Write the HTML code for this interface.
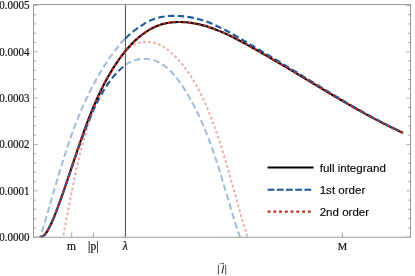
<!DOCTYPE html>
<html><head><meta charset="utf-8"><title>plot</title>
<style>
html,body{margin:0;padding:0;background:#fff;}
body{width:415px;height:276px;overflow:hidden;}
svg{display:block;}
.ser{font-family:"Liberation Serif",serif;font-size:11.5px;fill:#111;stroke:#111;stroke-width:0.2;}
.san{font-family:"Liberation Sans",sans-serif;font-size:11.55px;fill:#000;stroke:#000;stroke-width:0.12;}
.tkM{stroke:#a8a8a8;stroke-width:0.9;fill:none;}
.tkm{stroke:#8a8a8a;stroke-width:0.7;fill:none;}
.tkx{stroke:#8a8a8a;stroke-width:0.8;fill:none;}
.c{fill:none;stroke-width:2.1;stroke-linecap:butt;stroke-linejoin:round;}
.bk{stroke:#000;}
.bd{stroke:#1f5a9e;stroke-dasharray:6.5 3.3;}
.bl{stroke:#a5bedb;stroke-dasharray:6.5 3.3;}
.rd{stroke:#b9302a;stroke-dasharray:2.7 2.4;}
.rl{stroke:#ebb0ab;stroke-dasharray:2.7 2.4;}
</style></head>
<body>
<svg width="415" height="276" viewBox="0 0 415 276">
<rect x="0" y="0" width="415" height="276" fill="#fff"/>
<defs><clipPath id="cp"><rect x="33.5" y="4.6" width="377.0" height="232.6"/></clipPath></defs>
<g clip-path="url(#cp)">
<path class="c bl" d="M125.00 38.50 C124.69 38.85 123.76 39.91 123.16 40.62 C122.55 41.33 121.94 42.04 121.34 42.75 C120.75 43.47 120.15 44.18 119.56 44.90 C118.98 45.62 118.39 46.35 117.82 47.07 C117.24 47.80 116.67 48.53 116.10 49.26 C115.54 49.99 114.97 50.73 114.42 51.47 C113.86 52.20 113.31 52.94 112.76 53.69 C112.22 54.43 111.67 55.17 111.14 55.92 C110.60 56.67 110.07 57.42 109.54 58.17 C109.02 58.93 108.49 59.68 107.98 60.44 C107.46 61.20 106.95 61.96 106.44 62.73 C105.93 63.49 105.43 64.26 104.93 65.02 C104.43 65.79 103.94 66.56 103.45 67.34 C102.96 68.11 102.47 68.89 101.99 69.67 C101.51 70.44 101.03 71.22 100.56 72.01 C100.09 72.79 99.62 73.58 99.16 74.36 C98.69 75.15 98.23 75.94 97.78 76.73 C97.32 77.52 96.87 78.32 96.43 79.11 C95.98 79.91 95.54 80.71 95.10 81.51 C94.66 82.31 94.22 83.11 93.79 83.92 C93.36 84.72 92.93 85.53 92.51 86.34 C92.08 87.14 91.66 87.95 91.25 88.77 C90.83 89.58 90.42 90.39 90.01 91.21 C89.60 92.03 89.20 92.84 88.79 93.66 C88.39 94.48 87.99 95.31 87.60 96.13 C87.20 96.95 86.81 97.78 86.43 98.61 C86.04 99.43 85.65 100.26 85.27 101.09 C84.89 101.92 84.51 102.76 84.14 103.59 C83.76 104.42 83.39 105.26 83.02 106.10 C82.65 106.93 82.29 107.77 81.92 108.61 C81.56 109.45 81.20 110.30 80.85 111.14 C80.49 111.98 80.14 112.83 79.78 113.67 C79.43 114.52 79.09 115.37 78.74 116.22 C78.39 117.06 78.05 117.92 77.71 118.77 C77.37 119.62 77.04 120.47 76.70 121.33 C76.37 122.18 76.03 123.04 75.70 123.89 C75.37 124.75 75.05 125.61 74.72 126.47 C74.40 127.33 74.08 128.19 73.76 129.05 C73.44 129.91 73.12 130.77 72.80 131.64 C72.49 132.50 72.18 133.36 71.86 134.23 C71.55 135.10 71.24 135.96 70.94 136.83 C70.63 137.70 70.33 138.57 70.02 139.44 C69.72 140.31 69.42 141.18 69.12 142.05 C68.82 142.92 68.53 143.79 68.23 144.67 C67.94 145.54 67.64 146.41 67.35 147.29 C67.06 148.16 66.77 149.04 66.48 149.92 C66.19 150.79 65.91 151.67 65.62 152.55 C65.34 153.42 65.05 154.30 64.77 155.18 C64.49 156.06 64.21 156.94 63.93 157.82 C63.65 158.70 63.37 159.58 63.09 160.46 C62.82 161.34 62.54 162.23 62.27 163.11 C61.99 163.99 61.72 164.87 61.45 165.76 C61.18 166.64 60.91 167.52 60.64 168.41 C60.37 169.29 60.10 170.18 59.83 171.06 C59.56 171.94 59.30 172.83 59.03 173.71 C58.77 174.60 58.50 175.49 58.24 176.37 C57.97 177.26 57.71 178.14 57.45 179.03 C57.18 179.91 56.92 180.80 56.66 181.69 C56.40 182.57 56.14 183.46 55.88 184.35 C55.62 185.23 55.36 186.12 55.10 187.01 C54.84 187.89 54.58 188.78 54.32 189.67 C54.06 190.55 53.81 191.44 53.55 192.32 C53.29 193.21 53.03 194.10 52.78 194.98 C52.52 195.87 52.26 196.76 52.00 197.64 C51.75 198.53 51.49 199.41 51.23 200.30 C50.98 201.18 50.72 202.07 50.46 202.95 C50.20 203.84 49.95 204.72 49.69 205.61 C49.43 206.49 49.17 207.38 48.92 208.26 C48.66 209.14 48.40 210.02 48.14 210.91 C47.88 211.79 47.62 212.67 47.37 213.55 C47.11 214.44 46.85 215.32 46.59 216.20 C46.33 217.08 46.07 217.96 45.80 218.84 C45.54 219.72 45.28 220.60 45.02 221.47 C44.76 222.35 44.49 223.23 44.23 224.11 C43.96 224.98 43.70 225.86 43.43 226.73 C43.17 227.61 42.90 228.48 42.63 229.36 C42.37 230.23 42.10 231.11 41.83 231.98 C41.56 232.85 41.29 233.72 41.02 234.59 C40.75 235.46 40.34 236.77 40.20 237.20"/>
<path class="c bl" d="M125.40 65.00 C125.87 64.70 127.27 63.76 128.21 63.22 C129.15 62.68 130.10 62.19 131.05 61.75 C132.00 61.31 132.95 60.93 133.90 60.59 C134.85 60.25 135.81 59.96 136.76 59.72 C137.70 59.48 138.65 59.29 139.60 59.14 C140.54 58.99 141.48 58.88 142.41 58.82 C143.34 58.76 144.26 58.74 145.18 58.77 C146.09 58.79 147.00 58.85 147.89 58.95 C148.78 59.06 149.67 59.20 150.54 59.38 C151.41 59.56 152.26 59.78 153.11 60.03 C153.96 60.28 154.79 60.57 155.61 60.89 C156.44 61.21 157.25 61.56 158.05 61.95 C158.85 62.33 159.63 62.75 160.41 63.19 C161.19 63.64 161.95 64.12 162.71 64.62 C163.46 65.12 164.21 65.65 164.94 66.21 C165.68 66.76 166.40 67.34 167.11 67.95 C167.83 68.55 168.53 69.18 169.22 69.83 C169.92 70.48 170.60 71.15 171.27 71.84 C171.95 72.53 172.61 73.25 173.27 73.97 C173.92 74.70 174.57 75.45 175.20 76.21 C175.84 76.97 176.47 77.75 177.08 78.54 C177.70 79.33 178.31 80.14 178.91 80.95 C179.52 81.77 180.11 82.60 180.69 83.44 C181.28 84.28 181.85 85.13 182.42 85.98 C182.99 86.84 183.55 87.70 184.11 88.57 C184.66 89.44 185.20 90.32 185.74 91.20 C186.28 92.08 186.81 92.97 187.34 93.85 C187.86 94.74 188.38 95.63 188.89 96.51 C189.40 97.40 189.90 98.29 190.40 99.18 C190.90 100.07 191.39 100.96 191.87 101.85 C192.36 102.75 192.84 103.64 193.31 104.53 C193.78 105.42 194.24 106.32 194.70 107.21 C195.16 108.11 195.62 109.00 196.07 109.90 C196.51 110.79 196.96 111.69 197.39 112.58 C197.83 113.48 198.26 114.38 198.69 115.28 C199.11 116.17 199.53 117.07 199.95 117.97 C200.36 118.87 200.77 119.77 201.18 120.67 C201.58 121.57 201.98 122.47 202.38 123.38 C202.77 124.28 203.16 125.18 203.55 126.08 C203.93 126.99 204.32 127.89 204.69 128.80 C205.07 129.70 205.44 130.61 205.81 131.51 C206.18 132.42 206.54 133.32 206.90 134.23 C207.26 135.14 207.62 136.04 207.97 136.95 C208.32 137.86 208.67 138.77 209.01 139.68 C209.36 140.59 209.70 141.50 210.04 142.41 C210.37 143.32 210.71 144.23 211.04 145.14 C211.37 146.06 211.69 146.97 212.02 147.88 C212.34 148.79 212.66 149.71 212.98 150.62 C213.30 151.54 213.62 152.45 213.93 153.37 C214.24 154.28 214.55 155.20 214.86 156.11 C215.17 157.03 215.47 157.95 215.77 158.87 C216.08 159.78 216.38 160.70 216.68 161.62 C216.97 162.54 217.27 163.46 217.56 164.38 C217.86 165.30 218.15 166.22 218.44 167.14 C218.73 168.06 219.02 168.98 219.31 169.91 C219.60 170.83 219.88 171.75 220.17 172.67 C220.45 173.60 220.73 174.52 221.02 175.45 C221.30 176.37 221.58 177.29 221.86 178.22 C222.14 179.15 222.42 180.07 222.70 181.00 C222.97 181.92 223.25 182.85 223.53 183.78 C223.80 184.71 224.08 185.64 224.36 186.56 C224.63 187.49 224.91 188.42 225.18 189.35 C225.46 190.28 225.73 191.21 226.01 192.14 C226.28 193.07 226.56 194.01 226.83 194.94 C227.11 195.87 227.38 196.80 227.66 197.73 C227.94 198.67 228.21 199.60 228.49 200.53 C228.77 201.47 229.04 202.40 229.32 203.34 C229.60 204.27 229.88 205.21 230.16 206.14 C230.44 207.08 230.72 208.02 231.00 208.95 C231.28 209.89 231.57 210.83 231.85 211.76 C232.14 212.70 232.42 213.64 232.71 214.58 C233.00 215.52 233.28 216.46 233.58 217.40 C233.87 218.34 234.16 219.28 234.45 220.22 C234.75 221.16 235.04 222.10 235.34 223.04 C235.64 223.98 235.94 224.93 236.24 225.87 C236.55 226.81 236.85 227.75 237.16 228.70 C237.47 229.64 237.78 230.58 238.09 231.53 C238.40 232.47 238.72 233.42 239.04 234.36 C239.35 235.31 239.84 236.73 240.00 237.20"/>
<path class="c rl" d="M125.00 50.80 C125.41 50.43 126.61 49.26 127.48 48.57 C128.35 47.88 129.28 47.24 130.23 46.65 C131.18 46.07 132.17 45.53 133.18 45.05 C134.20 44.57 135.24 44.14 136.30 43.77 C137.35 43.40 138.43 43.08 139.51 42.81 C140.59 42.55 141.69 42.34 142.78 42.19 C143.86 42.03 144.96 41.94 146.03 41.90 C147.11 41.85 148.18 41.87 149.22 41.94 C150.27 42.01 151.30 42.14 152.30 42.33 C153.31 42.51 154.29 42.75 155.26 43.03 C156.22 43.32 157.16 43.65 158.09 44.03 C159.02 44.41 159.93 44.83 160.82 45.29 C161.71 45.74 162.58 46.24 163.44 46.77 C164.30 47.30 165.15 47.86 165.98 48.45 C166.81 49.04 167.62 49.66 168.42 50.30 C169.23 50.94 170.02 51.61 170.79 52.29 C171.57 52.97 172.34 53.67 173.09 54.38 C173.85 55.09 174.60 55.82 175.33 56.56 C176.07 57.30 176.79 58.05 177.51 58.82 C178.22 59.58 178.92 60.36 179.62 61.16 C180.31 61.95 181.00 62.75 181.67 63.57 C182.35 64.38 183.01 65.21 183.67 66.05 C184.32 66.89 184.97 67.74 185.61 68.60 C186.24 69.46 186.87 70.33 187.49 71.21 C188.11 72.09 188.72 72.98 189.32 73.88 C189.92 74.78 190.51 75.68 191.10 76.60 C191.68 77.51 192.26 78.44 192.82 79.37 C193.39 80.30 193.95 81.24 194.50 82.19 C195.05 83.14 195.59 84.09 196.13 85.05 C196.66 86.01 197.19 86.98 197.71 87.95 C198.23 88.92 198.74 89.90 199.25 90.88 C199.75 91.86 200.25 92.85 200.74 93.84 C201.23 94.83 201.72 95.83 202.19 96.83 C202.67 97.83 203.14 98.83 203.60 99.84 C204.07 100.85 204.52 101.85 204.97 102.87 C205.42 103.88 205.87 104.89 206.30 105.91 C206.74 106.92 207.17 107.94 207.60 108.96 C208.03 109.98 208.44 111.00 208.86 112.02 C209.27 113.04 209.68 114.06 210.09 115.08 C210.49 116.10 210.89 117.12 211.28 118.14 C211.67 119.15 212.06 120.17 212.44 121.19 C212.82 122.20 213.20 123.22 213.58 124.23 C213.95 125.25 214.32 126.26 214.68 127.27 C215.04 128.28 215.40 129.29 215.76 130.30 C216.11 131.30 216.47 132.31 216.81 133.32 C217.16 134.32 217.50 135.33 217.84 136.33 C218.18 137.34 218.52 138.34 218.85 139.34 C219.18 140.35 219.51 141.35 219.83 142.35 C220.16 143.35 220.48 144.35 220.80 145.35 C221.12 146.35 221.44 147.35 221.75 148.35 C222.06 149.35 222.37 150.35 222.68 151.35 C222.99 152.35 223.29 153.35 223.60 154.35 C223.90 155.34 224.20 156.34 224.50 157.34 C224.80 158.34 225.10 159.34 225.39 160.34 C225.69 161.33 225.98 162.33 226.27 163.33 C226.56 164.33 226.85 165.33 227.14 166.33 C227.43 167.33 227.72 168.33 228.00 169.33 C228.29 170.32 228.57 171.33 228.86 172.33 C229.14 173.33 229.42 174.33 229.71 175.33 C229.99 176.33 230.27 177.33 230.55 178.34 C230.83 179.34 231.11 180.35 231.40 181.35 C231.68 182.36 231.96 183.36 232.24 184.37 C232.52 185.38 232.80 186.38 233.08 187.39 C233.36 188.40 233.64 189.41 233.93 190.43 C234.21 191.44 234.49 192.45 234.77 193.46 C235.06 194.48 235.34 195.49 235.63 196.51 C235.91 197.53 236.20 198.55 236.49 199.57 C236.77 200.59 237.06 201.61 237.35 202.63 C237.64 203.66 237.94 204.68 238.23 205.71 C238.52 206.74 238.82 207.77 239.12 208.80 C239.41 209.83 239.71 210.86 240.01 211.90 C240.32 212.93 240.62 213.97 240.93 215.01 C241.23 216.05 241.54 217.09 241.85 218.13 C242.16 219.18 242.48 220.22 242.79 221.27 C243.11 222.32 243.43 223.37 243.75 224.43 C244.08 225.48 244.40 226.54 244.73 227.59 C245.06 228.65 245.40 229.71 245.73 230.78 C246.07 231.84 246.41 232.91 246.76 233.98 C247.10 235.05 247.63 236.66 247.80 237.20"/>
<path class="c rl" d="M125.00 50.60 C124.75 50.94 123.98 51.96 123.48 52.65 C122.98 53.33 122.49 54.02 122.00 54.71 C121.51 55.40 121.02 56.09 120.54 56.79 C120.06 57.48 119.59 58.18 119.11 58.88 C118.64 59.58 118.18 60.28 117.72 60.98 C117.25 61.69 116.80 62.39 116.34 63.10 C115.89 63.81 115.44 64.52 115.00 65.23 C114.56 65.94 114.12 66.66 113.68 67.37 C113.25 68.09 112.82 68.81 112.39 69.53 C111.97 70.25 111.55 70.97 111.13 71.70 C110.71 72.42 110.30 73.15 109.89 73.88 C109.48 74.60 109.08 75.33 108.68 76.07 C108.28 76.80 107.88 77.53 107.49 78.27 C107.10 79.00 106.71 79.74 106.33 80.48 C105.94 81.22 105.56 81.96 105.19 82.71 C104.81 83.45 104.44 84.20 104.07 84.94 C103.70 85.69 103.34 86.44 102.98 87.19 C102.62 87.94 102.26 88.69 101.91 89.45 C101.56 90.20 101.21 90.95 100.86 91.71 C100.52 92.47 100.17 93.23 99.84 93.99 C99.50 94.75 99.16 95.51 98.83 96.27 C98.50 97.04 98.17 97.80 97.85 98.57 C97.53 99.34 97.20 100.10 96.89 100.87 C96.57 101.64 96.26 102.41 95.95 103.19 C95.64 103.96 95.33 104.73 95.02 105.51 C94.72 106.28 94.42 107.06 94.12 107.84 C93.82 108.62 93.53 109.40 93.24 110.18 C92.95 110.96 92.66 111.74 92.37 112.52 C92.09 113.31 91.81 114.09 91.53 114.88 C91.25 115.66 90.97 116.45 90.70 117.24 C90.43 118.03 90.15 118.82 89.89 119.61 C89.62 120.40 89.35 121.19 89.09 121.99 C88.83 122.78 88.57 123.57 88.31 124.37 C88.06 125.16 87.80 125.96 87.55 126.76 C87.30 127.55 87.05 128.35 86.81 129.15 C86.56 129.95 86.32 130.75 86.07 131.55 C85.83 132.36 85.59 133.16 85.36 133.96 C85.12 134.77 84.89 135.57 84.66 136.37 C84.42 137.18 84.20 137.99 83.97 138.79 C83.74 139.60 83.52 140.41 83.29 141.22 C83.07 142.03 82.85 142.83 82.63 143.64 C82.41 144.45 82.20 145.27 81.98 146.08 C81.77 146.89 81.56 147.70 81.35 148.52 C81.14 149.33 80.93 150.14 80.72 150.96 C80.51 151.77 80.31 152.59 80.11 153.40 C79.91 154.22 79.70 155.03 79.51 155.85 C79.31 156.67 79.11 157.49 78.91 158.30 C78.72 159.12 78.52 159.94 78.33 160.76 C78.14 161.58 77.95 162.40 77.76 163.22 C77.57 164.04 77.38 164.86 77.20 165.68 C77.01 166.50 76.83 167.32 76.64 168.14 C76.46 168.97 76.28 169.79 76.10 170.61 C75.92 171.43 75.74 172.26 75.56 173.08 C75.38 173.90 75.20 174.73 75.03 175.55 C74.85 176.37 74.68 177.20 74.51 178.02 C74.33 178.85 74.16 179.67 73.99 180.49 C73.82 181.32 73.65 182.14 73.48 182.97 C73.31 183.79 73.14 184.62 72.98 185.44 C72.81 186.27 72.64 187.09 72.48 187.92 C72.31 188.74 72.15 189.57 71.98 190.40 C71.82 191.22 71.66 192.05 71.50 192.87 C71.33 193.70 71.17 194.52 71.01 195.35 C70.85 196.17 70.69 197.00 70.53 197.82 C70.37 198.65 70.21 199.47 70.05 200.30 C69.89 201.12 69.73 201.95 69.58 202.77 C69.42 203.60 69.26 204.42 69.10 205.25 C68.95 206.07 68.79 206.89 68.63 207.72 C68.48 208.54 68.32 209.37 68.17 210.19 C68.01 211.01 67.85 211.84 67.70 212.66 C67.54 213.48 67.39 214.30 67.23 215.13 C67.08 215.95 66.92 216.77 66.77 217.59 C66.61 218.41 66.46 219.23 66.30 220.05 C66.14 220.87 65.99 221.69 65.83 222.51 C65.68 223.33 65.52 224.15 65.37 224.97 C65.21 225.79 65.05 226.60 64.90 227.42 C64.74 228.24 64.58 229.06 64.43 229.87 C64.27 230.69 64.11 231.50 63.95 232.32 C63.80 233.13 63.64 233.95 63.48 234.76 C63.32 235.57 63.08 236.79 63.00 237.20"/>
<path class="c bk" d="M39.98 237.60 C40.43 237.39 41.86 236.83 42.64 236.35 C43.42 235.87 44.05 235.30 44.65 234.71 C45.24 234.11 45.73 233.45 46.21 232.77 C46.69 232.10 47.10 231.38 47.52 230.66 C47.95 229.94 48.36 229.20 48.76 228.45 C49.16 227.71 49.56 226.95 49.94 226.18 C50.33 225.41 50.71 224.63 51.08 223.84 C51.46 223.05 51.82 222.26 52.18 221.45 C52.54 220.65 52.89 219.84 53.24 219.02 C53.59 218.20 53.93 217.38 54.27 216.55 C54.61 215.73 54.94 214.89 55.27 214.06 C55.59 213.22 55.92 212.38 56.24 211.54 C56.56 210.70 56.87 209.86 57.19 209.02 C57.50 208.18 57.81 207.33 58.12 206.49 C58.43 205.65 58.73 204.81 59.03 203.97 C59.34 203.14 59.64 202.30 59.94 201.46 C60.24 200.63 60.54 199.79 60.83 198.96 C61.13 198.13 61.42 197.30 61.71 196.47 C62.01 195.64 62.30 194.81 62.59 193.99 C62.88 193.16 63.16 192.34 63.45 191.51 C63.74 190.69 64.02 189.87 64.31 189.04 C64.59 188.22 64.87 187.40 65.15 186.58 C65.43 185.76 65.71 184.94 65.99 184.13 C66.27 183.31 66.55 182.49 66.83 181.68 C67.11 180.86 67.38 180.05 67.66 179.23 C67.94 178.42 68.21 177.60 68.48 176.79 C68.76 175.98 69.03 175.16 69.31 174.35 C69.58 173.54 69.85 172.73 70.13 171.91 C70.40 171.10 70.67 170.29 70.94 169.48 C71.21 168.67 71.49 167.86 71.76 167.05 C72.03 166.24 72.30 165.43 72.57 164.62 C72.84 163.81 73.12 163.00 73.39 162.19 C73.66 161.38 73.93 160.57 74.20 159.76 C74.48 158.95 74.75 158.14 75.02 157.33 C75.30 156.52 75.57 155.71 75.84 154.90 C76.12 154.08 76.39 153.27 76.67 152.46 C76.94 151.65 77.22 150.84 77.49 150.02 C77.77 149.21 78.05 148.40 78.33 147.58 C78.61 146.77 78.89 145.96 79.17 145.14 C79.45 144.32 79.73 143.51 80.01 142.69 C80.29 141.87 80.58 141.06 80.86 140.24 C81.15 139.42 81.43 138.60 81.72 137.78 C82.01 136.96 82.30 136.14 82.59 135.31 C82.88 134.49 83.17 133.67 83.47 132.85 C83.76 132.02 84.06 131.20 84.36 130.38 C84.65 129.55 84.95 128.73 85.25 127.90 C85.56 127.08 85.86 126.25 86.16 125.43 C86.47 124.60 86.78 123.78 87.09 122.95 C87.40 122.13 87.71 121.30 88.02 120.48 C88.34 119.65 88.66 118.83 88.98 118.00 C89.29 117.18 89.62 116.35 89.94 115.53 C90.26 114.70 90.59 113.88 90.92 113.06 C91.25 112.23 91.58 111.41 91.92 110.59 C92.25 109.77 92.59 108.94 92.93 108.12 C93.27 107.30 93.62 106.48 93.97 105.66 C94.31 104.85 94.66 104.03 95.02 103.21 C95.37 102.39 95.73 101.58 96.09 100.76 C96.45 99.95 96.81 99.14 97.18 98.32 C97.55 97.51 97.92 96.70 98.29 95.89 C98.66 95.08 99.04 94.27 99.42 93.47 C99.81 92.66 100.19 91.86 100.58 91.05 C100.97 90.25 101.36 89.45 101.76 88.65 C102.16 87.85 102.56 87.05 102.96 86.26 C103.37 85.46 103.78 84.67 104.19 83.88 C104.60 83.09 105.02 82.30 105.44 81.51 C105.87 80.72 106.29 79.94 106.72 79.16 C107.16 78.37 107.59 77.59 108.03 76.82 C108.47 76.04 108.92 75.26 109.37 74.49 C109.82 73.72 110.27 72.95 110.73 72.18 C111.19 71.41 111.66 70.65 112.12 69.89 C112.59 69.13 113.07 68.37 113.55 67.61 C114.03 66.86 114.51 66.11 115.00 65.36 C115.49 64.61 115.99 63.86 116.49 63.12 C116.99 62.38 117.50 61.64 118.01 60.90 C118.52 60.17 119.04 59.44 119.56 58.71 C120.08 57.98 120.61 57.26 121.15 56.54 C121.68 55.82 122.22 55.11 122.77 54.40 C123.31 53.70 123.86 53.00 124.42 52.30 C124.98 51.61 125.54 50.92 126.11 50.24 C126.68 49.56 127.25 48.88 127.83 48.22 C128.41 47.55 129.00 46.89 129.59 46.24 C130.18 45.59 130.78 44.95 131.38 44.31 C131.99 43.68 132.60 43.05 133.22 42.44 C133.83 41.83 134.45 41.22 135.08 40.63 C135.71 40.03 136.35 39.45 136.99 38.87 C137.63 38.30 138.28 37.74 138.93 37.19 C139.58 36.63 140.24 36.09 140.91 35.57 C141.58 35.04 142.25 34.52 142.93 34.02 C143.61 33.52 144.29 33.03 144.98 32.56 C145.68 32.08 146.38 31.62 147.08 31.17 C147.79 30.72 148.50 30.29 149.22 29.87 C149.93 29.45 150.66 29.04 151.39 28.66 C152.12 28.27 152.86 27.89 153.61 27.54 C154.35 27.18 155.10 26.84 155.86 26.51 C156.62 26.19 157.39 25.88 158.16 25.59 C158.93 25.30 159.71 25.03 160.50 24.77 C161.28 24.52 162.08 24.28 162.88 24.06 C163.68 23.84 164.49 23.64 165.30 23.46 C166.11 23.28 166.93 23.12 167.76 22.97 C168.58 22.82 169.41 22.69 170.25 22.58 C171.09 22.47 171.93 22.37 172.77 22.29 C173.62 22.21 174.47 22.15 175.32 22.11 C176.17 22.06 177.03 22.03 177.89 22.01 C178.75 21.99 179.62 21.99 180.48 22.01 C181.35 22.02 182.22 22.05 183.09 22.09 C183.96 22.14 184.83 22.20 185.70 22.27 C186.58 22.34 187.45 22.42 188.33 22.52 C189.21 22.62 190.08 22.73 190.96 22.86 C191.83 22.98 192.71 23.12 193.59 23.27 C194.46 23.42 195.34 23.58 196.21 23.75 C197.09 23.92 197.96 24.11 198.83 24.31 C199.70 24.50 200.57 24.71 201.44 24.93 C202.31 25.15 203.17 25.38 204.03 25.61 C204.90 25.85 205.75 26.10 206.61 26.36 C207.47 26.62 208.32 26.89 209.17 27.17 C210.02 27.44 210.87 27.73 211.72 28.03 C212.56 28.32 213.41 28.63 214.25 28.94 C215.09 29.25 215.93 29.57 216.76 29.90 C217.60 30.22 218.43 30.56 219.26 30.90 C220.09 31.24 220.92 31.59 221.75 31.95 C222.58 32.31 223.40 32.67 224.22 33.04 C225.04 33.40 225.86 33.78 226.68 34.16 C227.50 34.54 228.31 34.92 229.12 35.31 C229.94 35.70 230.75 36.10 231.56 36.50 C232.36 36.90 233.17 37.30 233.97 37.71 C234.78 38.12 235.58 38.53 236.38 38.94 C237.18 39.36 237.98 39.78 238.78 40.20 C239.57 40.62 240.37 41.04 241.16 41.47 C241.95 41.89 242.74 42.32 243.53 42.75 C244.32 43.18 245.11 43.62 245.89 44.05 C246.68 44.48 247.46 44.92 248.25 45.35 C249.03 45.79 249.81 46.23 250.59 46.66 C251.37 47.10 252.14 47.53 252.92 47.97 C253.69 48.41 254.47 48.84 255.24 49.28 C256.01 49.72 256.78 50.16 257.55 50.59 C258.32 51.03 259.09 51.47 259.86 51.91 C260.62 52.34 261.39 52.78 262.15 53.22 C262.92 53.66 263.68 54.10 264.44 54.53 C265.20 54.97 265.96 55.41 266.72 55.85 C267.48 56.29 268.24 56.73 268.99 57.16 C269.75 57.60 270.50 58.04 271.26 58.48 C272.01 58.92 272.77 59.36 273.52 59.80 C274.27 60.24 275.02 60.68 275.77 61.12 C276.52 61.56 277.27 62.00 278.02 62.44 C278.77 62.88 279.51 63.32 280.26 63.76 C281.01 64.20 281.75 64.64 282.50 65.08 C283.24 65.52 283.99 65.96 284.73 66.40 C285.47 66.84 286.21 67.28 286.96 67.72 C287.70 68.16 288.44 68.60 289.18 69.04 C289.92 69.48 290.66 69.92 291.40 70.37 C292.14 70.81 292.88 71.25 293.62 71.69 C294.35 72.13 295.09 72.57 295.83 73.01 C296.57 73.45 297.30 73.90 298.04 74.34 C298.78 74.78 299.51 75.22 300.25 75.66 C300.98 76.10 301.72 76.55 302.45 76.99 C303.19 77.43 303.92 77.87 304.66 78.31 C305.39 78.76 306.13 79.20 306.86 79.64 C307.60 80.08 308.33 80.53 309.07 80.97 C309.80 81.41 310.53 81.85 311.27 82.29 C312.00 82.74 312.74 83.18 313.47 83.62 C314.20 84.06 314.94 84.51 315.67 84.95 C316.41 85.39 317.14 85.83 317.87 86.27 C318.61 86.72 319.34 87.16 320.08 87.60 C320.81 88.04 321.55 88.48 322.28 88.92 C323.02 89.36 323.75 89.81 324.49 90.25 C325.23 90.69 325.96 91.13 326.70 91.57 C327.43 92.01 328.17 92.45 328.91 92.89 C329.65 93.33 330.38 93.77 331.12 94.20 C331.86 94.64 332.60 95.08 333.34 95.52 C334.08 95.96 334.82 96.40 335.56 96.83 C336.30 97.27 337.04 97.71 337.78 98.14 C338.52 98.58 339.27 99.02 340.01 99.45 C340.75 99.89 341.50 100.32 342.24 100.76 C342.99 101.19 343.73 101.63 344.48 102.06 C345.23 102.49 345.97 102.93 346.72 103.36 C347.47 103.79 348.22 104.22 348.97 104.65 C349.72 105.08 350.47 105.51 351.22 105.94 C351.97 106.37 352.73 106.80 353.48 107.23 C354.24 107.66 354.99 108.08 355.75 108.51 C356.50 108.94 357.26 109.36 358.02 109.79 C358.78 110.21 359.54 110.64 360.30 111.06 C361.06 111.48 361.83 111.91 362.59 112.33 C363.35 112.75 364.12 113.17 364.89 113.59 C365.65 114.01 366.42 114.43 367.19 114.85 C367.96 115.27 368.73 115.68 369.50 116.10 C370.28 116.52 371.05 116.93 371.83 117.35 C372.60 117.76 373.38 118.17 374.16 118.59 C374.94 119.00 375.72 119.41 376.50 119.82 C377.28 120.23 378.06 120.64 378.85 121.04 C379.64 121.45 380.42 121.86 381.21 122.26 C382.00 122.67 382.79 123.07 383.58 123.48 C384.38 123.88 385.17 124.28 385.97 124.68 C386.77 125.08 387.56 125.48 388.36 125.88 C389.16 126.28 389.97 126.68 390.77 127.07 C391.58 127.47 392.38 127.86 393.19 128.25 C394.00 128.65 394.81 129.04 395.62 129.43 C396.44 129.82 397.25 130.21 398.07 130.59 C398.89 130.98 399.71 131.37 400.53 131.75 C401.35 132.14 402.59 132.71 403.00 132.90"/>
<path class="c bd" d="M39.98 237.60 C40.23 237.51 40.95 237.26 41.43 237.03 C41.92 236.79 42.40 236.53 42.88 236.20 C43.36 235.86 43.85 235.49 44.33 235.02 C44.81 234.55 45.29 234.01 45.78 233.37 C46.26 232.73 46.74 231.97 47.22 231.17 C47.71 230.38 48.19 229.51 48.67 228.62 C49.15 227.73 49.64 226.81 50.12 225.84 C50.60 224.88 51.08 223.87 51.57 222.83 C52.05 221.78 52.53 220.70 53.01 219.58 C53.50 218.47 53.98 217.31 54.46 216.12 C54.94 214.94 55.43 213.71 55.91 212.46 C56.39 211.22 56.87 209.94 57.36 208.64 C57.84 207.35 58.32 206.04 58.81 204.72 C59.29 203.40 59.77 202.06 60.25 200.73 C60.74 199.39 61.22 198.04 61.70 196.69 C62.18 195.33 62.67 193.97 63.15 192.60 C63.63 191.23 64.11 189.85 64.60 188.47 C65.08 187.08 65.56 185.69 66.04 184.30 C66.53 182.91 67.01 181.51 67.49 180.10 C67.97 178.70 68.46 177.29 68.94 175.89 C69.42 174.48 69.90 173.07 70.39 171.66 C70.87 170.25 71.35 168.84 71.83 167.43 C72.32 166.02 72.80 164.61 73.28 163.20 C73.76 161.80 74.25 160.39 74.73 158.99 C75.21 157.60 75.70 156.20 76.18 154.81 C76.66 153.43 77.14 152.04 77.63 150.67 C78.11 149.30 78.59 147.93 79.07 146.57 C79.56 145.21 80.04 143.86 80.52 142.52 C81.00 141.19 81.49 139.85 81.97 138.54 C82.45 137.22 82.93 135.91 83.42 134.62 C83.90 133.33 84.38 132.05 84.86 130.78 C85.35 129.52 85.83 128.27 86.31 127.03 C86.79 125.80 87.28 124.58 87.76 123.38 C88.24 122.18 88.72 121.00 89.21 119.84 C89.69 118.67 90.17 117.52 90.65 116.39 C91.14 115.26 91.62 114.15 92.10 113.06 C92.59 111.97 93.07 110.89 93.55 109.84 C94.03 108.78 94.52 107.75 95.00 106.73 C95.48 105.71 95.96 104.71 96.45 103.73 C96.93 102.75 97.41 101.79 97.89 100.85 C98.38 99.90 98.86 98.98 99.34 98.07 C99.82 97.17 100.31 96.28 100.79 95.41 C101.27 94.54 101.75 93.69 102.24 92.85 C102.72 92.02 103.20 91.20 103.68 90.40 C104.17 89.61 104.65 88.82 105.13 88.06 C105.61 87.30 106.10 86.55 106.58 85.82 C107.06 85.09 107.54 84.38 108.03 83.68 C108.51 82.99 108.99 82.31 109.48 81.64 C109.96 80.98 110.44 80.33 110.92 79.70 C111.41 79.07 111.89 78.45 112.37 77.85 C112.85 77.25 113.34 76.67 113.82 76.10 C114.30 75.53 114.78 74.98 115.27 74.44 C115.75 73.90 116.23 73.37 116.71 72.86 C117.20 72.36 117.68 71.86 118.16 71.38 C118.64 70.90 119.13 70.44 119.61 69.98 C120.09 69.53 120.57 69.10 121.06 68.68 C121.54 68.26 122.02 67.85 122.50 67.46 C122.99 67.07 123.47 66.69 123.95 66.33 C124.43 65.97 125.16 65.47 125.40 65.29"/>
<path class="c bd" d="M125.40 38.39 C125.92 37.91 127.48 36.42 128.52 35.49 C129.56 34.55 130.60 33.66 131.64 32.79 C132.68 31.93 133.72 31.09 134.76 30.28 C135.80 29.48 136.84 28.70 137.88 27.94 C138.92 27.19 139.96 26.46 141.00 25.77 C142.04 25.07 143.07 24.41 144.11 23.79 C145.15 23.16 146.19 22.57 147.23 22.02 C148.27 21.48 149.31 20.97 150.35 20.51 C151.39 20.05 152.43 19.63 153.47 19.24 C154.51 18.85 155.55 18.51 156.59 18.19 C157.63 17.88 158.67 17.60 159.71 17.35 C160.75 17.10 161.79 16.89 162.83 16.71 C163.87 16.53 164.91 16.38 165.95 16.26 C166.99 16.14 168.03 16.06 169.07 15.99 C170.11 15.93 171.15 15.89 172.19 15.87 C173.23 15.85 174.27 15.85 175.31 15.86 C176.35 15.87 177.39 15.91 178.42 15.96 C179.46 16.00 180.50 16.06 181.54 16.14 C182.58 16.22 183.62 16.33 184.66 16.45 C185.70 16.57 186.74 16.71 187.78 16.87 C188.82 17.02 189.86 17.20 190.90 17.39 C191.94 17.58 192.98 17.78 194.02 18.00 C195.06 18.22 196.10 18.46 197.14 18.72 C198.18 18.97 199.22 19.25 200.26 19.55 C201.30 19.85 202.34 20.17 203.38 20.51 C204.42 20.85 205.46 21.22 206.50 21.60 C207.54 21.98 208.58 22.38 209.62 22.79 C210.66 23.21 211.70 23.64 212.73 24.08 C213.77 24.53 214.81 24.99 215.85 25.47 C216.89 25.94 217.93 26.43 218.97 26.93 C220.01 27.43 221.05 27.94 222.09 28.46 C223.13 28.98 224.17 29.51 225.21 30.05 C226.25 30.59 227.29 31.14 228.33 31.70 C229.37 32.26 230.41 32.83 231.45 33.42 C232.49 34.00 233.53 34.59 234.57 35.19 C235.61 35.79 236.65 36.40 237.69 37.01 C238.73 37.62 239.77 38.24 240.81 38.86 C241.85 39.47 242.89 40.10 243.93 40.72 C244.97 41.34 246.01 41.96 247.04 42.58 C248.08 43.20 249.12 43.81 250.16 44.43 C251.20 45.05 252.24 45.66 253.28 46.27 C254.32 46.88 255.36 47.50 256.40 48.11 C257.44 48.73 258.48 49.34 259.52 49.96 C260.56 50.57 261.60 51.19 262.64 51.81 C263.68 52.42 264.72 53.04 265.76 53.66 C266.80 54.28 267.84 54.90 268.88 55.52 C269.92 56.14 270.96 56.76 272.00 57.38 C273.04 58.01 274.08 58.63 275.12 59.25 C276.16 59.88 277.20 60.51 278.24 61.13 C279.28 61.76 280.32 62.39 281.36 63.02 C282.39 63.65 283.43 64.27 284.47 64.90 C285.51 65.53 286.55 66.16 287.59 66.80 C288.63 67.43 289.67 68.06 290.71 68.69 C291.75 69.32 292.79 69.96 293.83 70.59 C294.87 71.23 295.91 71.86 296.95 72.49 C297.99 73.13 299.03 73.76 300.07 74.40 C301.11 75.04 302.15 75.67 303.19 76.31 C304.23 76.95 305.27 77.58 306.31 78.22 C307.35 78.86 308.39 79.50 309.43 80.13 C310.47 80.77 311.51 81.41 312.55 82.04 C313.59 82.68 314.63 83.32 315.67 83.95 C316.70 84.59 317.74 85.22 318.78 85.86 C319.82 86.49 320.86 87.13 321.90 87.76 C322.94 88.40 323.98 89.03 325.02 89.66 C326.06 90.30 327.10 90.93 328.14 91.56 C329.18 92.19 330.22 92.82 331.26 93.45 C332.30 94.08 333.34 94.71 334.38 95.34 C335.42 95.96 336.46 96.59 337.50 97.22 C338.54 97.84 339.58 98.47 340.62 99.09 C341.66 99.71 342.70 100.33 343.74 100.95 C344.78 101.57 345.82 102.18 346.86 102.79 C347.90 103.41 348.94 104.02 349.98 104.63 C351.01 105.23 352.05 105.84 353.09 106.44 C354.13 107.04 355.17 107.64 356.21 108.24 C357.25 108.84 358.29 109.43 359.33 110.02 C360.37 110.61 361.41 111.19 362.45 111.77 C363.49 112.35 364.53 112.93 365.57 113.51 C366.61 114.09 367.65 114.66 368.69 115.23 C369.73 115.80 370.77 116.36 371.81 116.93 C372.85 117.49 373.89 118.05 374.93 118.60 C375.97 119.16 377.01 119.71 378.05 120.26 C379.09 120.81 380.13 121.35 381.17 121.89 C382.21 122.43 383.25 122.97 384.29 123.50 C385.33 124.04 386.36 124.57 387.40 125.09 C388.44 125.62 389.48 126.14 390.52 126.65 C391.56 127.17 392.60 127.68 393.64 128.19 C394.68 128.70 395.72 129.20 396.76 129.70 C397.80 130.20 398.84 130.70 399.88 131.19 C400.92 131.68 402.48 132.41 403.00 132.65"/>
<path class="c rd" d="M39.98 237.60 C40.43 237.39 41.86 236.83 42.64 236.35 C43.42 235.87 44.05 235.30 44.65 234.71 C45.24 234.11 45.73 233.45 46.21 232.77 C46.69 232.10 47.10 231.38 47.52 230.66 C47.95 229.94 48.36 229.20 48.76 228.45 C49.16 227.71 49.56 226.95 49.94 226.18 C50.33 225.41 50.71 224.63 51.08 223.84 C51.46 223.05 51.82 222.26 52.18 221.45 C52.54 220.65 52.89 219.84 53.24 219.02 C53.59 218.20 53.93 217.38 54.27 216.55 C54.61 215.73 54.94 214.89 55.27 214.06 C55.59 213.22 55.92 212.38 56.24 211.54 C56.56 210.70 56.87 209.86 57.19 209.02 C57.50 208.18 57.81 207.33 58.12 206.49 C58.43 205.65 58.73 204.81 59.03 203.97 C59.34 203.14 59.64 202.30 59.94 201.46 C60.24 200.63 60.54 199.79 60.83 198.96 C61.13 198.13 61.42 197.30 61.71 196.47 C62.01 195.64 62.30 194.81 62.59 193.99 C62.88 193.16 63.16 192.34 63.45 191.51 C63.74 190.69 64.02 189.87 64.31 189.04 C64.59 188.22 64.87 187.40 65.15 186.58 C65.43 185.76 65.71 184.94 65.99 184.13 C66.27 183.31 66.55 182.49 66.83 181.68 C67.11 180.86 67.38 180.05 67.66 179.23 C67.94 178.42 68.21 177.60 68.48 176.79 C68.76 175.98 69.03 175.16 69.31 174.35 C69.58 173.54 69.85 172.73 70.13 171.91 C70.40 171.10 70.67 170.29 70.94 169.48 C71.21 168.67 71.49 167.86 71.76 167.05 C72.03 166.24 72.30 165.43 72.57 164.62 C72.84 163.81 73.12 163.00 73.39 162.19 C73.66 161.38 73.93 160.57 74.20 159.76 C74.48 158.95 74.75 158.14 75.02 157.33 C75.30 156.52 75.57 155.71 75.84 154.90 C76.12 154.08 76.39 153.27 76.67 152.46 C76.94 151.65 77.22 150.84 77.49 150.02 C77.77 149.21 78.05 148.40 78.33 147.58 C78.61 146.77 78.89 145.96 79.17 145.14 C79.45 144.32 79.73 143.51 80.01 142.69 C80.29 141.87 80.58 141.06 80.86 140.24 C81.15 139.42 81.43 138.60 81.72 137.78 C82.01 136.96 82.30 136.14 82.59 135.31 C82.88 134.49 83.17 133.67 83.47 132.85 C83.76 132.02 84.06 131.20 84.36 130.38 C84.65 129.55 84.95 128.73 85.25 127.90 C85.56 127.08 85.86 126.25 86.16 125.43 C86.47 124.60 86.78 123.78 87.09 122.95 C87.40 122.13 87.71 121.30 88.02 120.48 C88.34 119.65 88.66 118.83 88.98 118.00 C89.29 117.18 89.62 116.35 89.94 115.53 C90.26 114.70 90.59 113.88 90.92 113.06 C91.25 112.23 91.58 111.41 91.92 110.59 C92.25 109.77 92.59 108.94 92.93 108.12 C93.27 107.30 93.62 106.48 93.97 105.66 C94.31 104.85 94.66 104.03 95.02 103.21 C95.37 102.39 95.73 101.58 96.09 100.76 C96.45 99.95 96.81 99.14 97.18 98.32 C97.55 97.51 97.92 96.70 98.29 95.89 C98.66 95.08 99.04 94.27 99.42 93.47 C99.81 92.66 100.19 91.86 100.58 91.05 C100.97 90.25 101.36 89.45 101.76 88.65 C102.16 87.85 102.56 87.05 102.96 86.26 C103.37 85.46 103.78 84.67 104.19 83.88 C104.60 83.09 105.02 82.30 105.44 81.51 C105.87 80.72 106.29 79.94 106.72 79.16 C107.16 78.37 107.59 77.59 108.03 76.82 C108.47 76.04 108.92 75.26 109.37 74.49 C109.82 73.72 110.27 72.95 110.73 72.18 C111.19 71.41 111.66 70.65 112.12 69.89 C112.59 69.13 113.07 68.37 113.55 67.61 C114.03 66.86 114.51 66.11 115.00 65.36 C115.49 64.61 115.99 63.86 116.49 63.12 C116.99 62.38 117.50 61.64 118.01 60.90 C118.52 60.17 119.04 59.44 119.56 58.71 C120.08 57.98 120.61 57.26 121.15 56.54 C121.68 55.82 122.22 55.11 122.77 54.40 C123.31 53.70 123.86 53.00 124.42 52.30 C124.98 51.61 125.83 50.58 126.11 50.24"/>
<path class="c rd" d="M126.11 50.24 C126.40 49.90 127.25 48.88 127.83 48.22 C128.41 47.55 129.00 46.89 129.59 46.24 C130.18 45.59 130.78 44.95 131.38 44.31 C131.99 43.68 132.60 43.05 133.22 42.44 C133.83 41.83 134.45 41.22 135.08 40.63 C135.71 40.03 136.35 39.45 136.99 38.87 C137.63 38.30 138.28 37.74 138.93 37.19 C139.58 36.63 140.24 36.09 140.91 35.57 C141.58 35.04 142.25 34.52 142.93 34.02 C143.61 33.52 144.29 33.03 144.98 32.56 C145.68 32.08 146.38 31.62 147.08 31.17 C147.79 30.72 148.50 30.29 149.22 29.87 C149.93 29.45 150.66 29.04 151.39 28.66 C152.12 28.27 152.86 27.89 153.61 27.54 C154.35 27.18 155.10 26.84 155.86 26.51 C156.62 26.19 157.39 25.88 158.16 25.59 C158.93 25.30 159.71 25.03 160.50 24.77 C161.28 24.52 162.08 24.28 162.88 24.06 C163.68 23.84 164.49 23.64 165.30 23.46 C166.11 23.28 166.93 23.12 167.76 22.97 C168.58 22.82 169.41 22.69 170.25 22.58 C171.09 22.47 171.93 22.37 172.77 22.29 C173.62 22.21 174.47 22.15 175.32 22.11 C176.17 22.06 177.03 22.03 177.89 22.01 C178.75 21.99 179.62 21.99 180.48 22.01 C181.35 22.02 182.22 22.05 183.09 22.09 C183.96 22.14 184.83 22.20 185.70 22.27 C186.58 22.34 187.45 22.42 188.33 22.52 C189.21 22.62 190.08 22.73 190.96 22.86 C191.83 22.98 192.71 23.12 193.59 23.27 C194.46 23.42 195.34 23.58 196.21 23.75 C197.09 23.92 197.96 24.11 198.83 24.31 C199.70 24.50 200.57 24.71 201.44 24.93 C202.31 25.15 203.17 25.38 204.03 25.61 C204.90 25.85 205.75 26.10 206.61 26.36 C207.47 26.62 208.32 26.89 209.17 27.17 C210.02 27.44 210.87 27.73 211.72 28.03 C212.56 28.32 213.41 28.63 214.25 28.94 C215.09 29.25 215.93 29.57 216.76 29.90 C217.60 30.22 218.43 30.56 219.26 30.90 C220.09 31.24 220.92 31.59 221.75 31.95 C222.58 32.31 223.40 32.67 224.22 33.04 C225.04 33.40 225.86 33.78 226.68 34.16 C227.50 34.54 228.31 34.92 229.12 35.31 C229.94 35.70 230.75 36.10 231.56 36.50 C232.36 36.90 233.17 37.30 233.97 37.71 C234.78 38.12 235.58 38.53 236.38 38.94 C237.18 39.36 237.98 39.78 238.78 40.20 C239.57 40.62 240.37 41.04 241.16 41.47 C241.95 41.89 242.74 42.32 243.53 42.75 C244.32 43.18 245.11 43.62 245.89 44.05 C246.68 44.48 247.46 44.92 248.25 45.35 C249.03 45.79 249.81 46.23 250.59 46.66 C251.37 47.10 252.14 47.53 252.92 47.97 C253.69 48.41 254.47 48.84 255.24 49.28 C256.01 49.72 256.78 50.16 257.55 50.59 C258.32 51.03 259.09 51.47 259.86 51.91 C260.62 52.34 261.39 52.78 262.15 53.22 C262.92 53.66 263.68 54.10 264.44 54.53 C265.20 54.97 265.96 55.41 266.72 55.85 C267.48 56.29 268.24 56.73 268.99 57.16 C269.75 57.60 270.50 58.04 271.26 58.48 C272.01 58.92 272.77 59.36 273.52 59.80 C274.27 60.24 275.02 60.68 275.77 61.12 C276.52 61.56 277.27 62.00 278.02 62.44 C278.77 62.88 279.51 63.32 280.26 63.76 C281.01 64.20 281.75 64.64 282.50 65.08 C283.24 65.52 283.99 65.96 284.73 66.40 C285.47 66.84 286.21 67.28 286.96 67.72 C287.70 68.16 288.44 68.60 289.18 69.04 C289.92 69.48 290.66 69.92 291.40 70.37 C292.14 70.81 292.88 71.25 293.62 71.69 C294.35 72.13 295.09 72.57 295.83 73.01 C296.57 73.45 297.30 73.90 298.04 74.34 C298.78 74.78 299.51 75.22 300.25 75.66 C300.98 76.10 301.72 76.55 302.45 76.99 C303.19 77.43 303.92 77.87 304.66 78.31 C305.39 78.76 306.13 79.20 306.86 79.64 C307.60 80.08 308.33 80.53 309.07 80.97 C309.80 81.41 310.53 81.85 311.27 82.29 C312.00 82.74 312.74 83.18 313.47 83.62 C314.20 84.06 314.94 84.51 315.67 84.95 C316.41 85.39 317.14 85.83 317.87 86.27 C318.61 86.72 319.34 87.16 320.08 87.60 C320.81 88.04 321.55 88.48 322.28 88.92 C323.02 89.36 323.75 89.81 324.49 90.25 C325.23 90.69 325.96 91.13 326.70 91.57 C327.43 92.01 328.17 92.45 328.91 92.89 C329.65 93.33 330.38 93.77 331.12 94.20 C331.86 94.64 332.60 95.08 333.34 95.52 C334.08 95.96 334.82 96.40 335.56 96.83 C336.30 97.27 337.04 97.71 337.78 98.14 C338.52 98.58 339.27 99.02 340.01 99.45 C340.75 99.89 341.50 100.32 342.24 100.76 C342.99 101.19 343.73 101.63 344.48 102.06 C345.23 102.49 345.97 102.93 346.72 103.36 C347.47 103.79 348.22 104.22 348.97 104.65 C349.72 105.08 350.47 105.51 351.22 105.94 C351.97 106.37 352.73 106.80 353.48 107.23 C354.24 107.66 354.99 108.08 355.75 108.51 C356.50 108.94 357.26 109.36 358.02 109.79 C358.78 110.21 359.54 110.64 360.30 111.06 C361.06 111.48 361.83 111.91 362.59 112.33 C363.35 112.75 364.12 113.17 364.89 113.59 C365.65 114.01 366.42 114.43 367.19 114.85 C367.96 115.27 368.73 115.68 369.50 116.10 C370.28 116.52 371.05 116.93 371.83 117.35 C372.60 117.76 373.38 118.17 374.16 118.59 C374.94 119.00 375.72 119.41 376.50 119.82 C377.28 120.23 378.06 120.64 378.85 121.04 C379.64 121.45 380.42 121.86 381.21 122.26 C382.00 122.67 382.79 123.07 383.58 123.48 C384.38 123.88 385.17 124.28 385.97 124.68 C386.77 125.08 387.56 125.48 388.36 125.88 C389.16 126.28 389.97 126.68 390.77 127.07 C391.58 127.47 392.38 127.86 393.19 128.25 C394.00 128.65 394.81 129.04 395.62 129.43 C396.44 129.82 397.25 130.21 398.07 130.59 C398.89 130.98 399.71 131.37 400.53 131.75 C401.35 132.14 402.59 132.71 403.00 132.90"/>
</g>
<path d="M125.4 4.6 V237.2" stroke="#3a3a3a" stroke-width="0.9" fill="none"/>
<rect x="33.5" y="4.6" width="377.0" height="232.6" fill="none" stroke="#8e8e8e" stroke-width="0.9"/>
<path d="M33.50 237.20 h4.3 M410.50 237.20 h-4.3" class="tkM"/>
<path d="M33.50 227.93 h2.6 M410.50 227.93 h-2.6" class="tkm"/>
<path d="M33.50 218.66 h2.6 M410.50 218.66 h-2.6" class="tkm"/>
<path d="M33.50 209.38 h2.6 M410.50 209.38 h-2.6" class="tkm"/>
<path d="M33.50 200.11 h2.6 M410.50 200.11 h-2.6" class="tkm"/>
<path d="M33.50 190.84 h4.3 M410.50 190.84 h-4.3" class="tkM"/>
<path d="M33.50 181.57 h2.6 M410.50 181.57 h-2.6" class="tkm"/>
<path d="M33.50 172.30 h2.6 M410.50 172.30 h-2.6" class="tkm"/>
<path d="M33.50 163.02 h2.6 M410.50 163.02 h-2.6" class="tkm"/>
<path d="M33.50 153.75 h2.6 M410.50 153.75 h-2.6" class="tkm"/>
<path d="M33.50 144.48 h4.3 M410.50 144.48 h-4.3" class="tkM"/>
<path d="M33.50 135.21 h2.6 M410.50 135.21 h-2.6" class="tkm"/>
<path d="M33.50 125.94 h2.6 M410.50 125.94 h-2.6" class="tkm"/>
<path d="M33.50 116.66 h2.6 M410.50 116.66 h-2.6" class="tkm"/>
<path d="M33.50 107.39 h2.6 M410.50 107.39 h-2.6" class="tkm"/>
<path d="M33.50 98.12 h4.3 M410.50 98.12 h-4.3" class="tkM"/>
<path d="M33.50 88.85 h2.6 M410.50 88.85 h-2.6" class="tkm"/>
<path d="M33.50 79.58 h2.6 M410.50 79.58 h-2.6" class="tkm"/>
<path d="M33.50 70.30 h2.6 M410.50 70.30 h-2.6" class="tkm"/>
<path d="M33.50 61.03 h2.6 M410.50 61.03 h-2.6" class="tkm"/>
<path d="M33.50 51.76 h4.3 M410.50 51.76 h-4.3" class="tkM"/>
<path d="M33.50 42.49 h2.6 M410.50 42.49 h-2.6" class="tkm"/>
<path d="M33.50 33.22 h2.6 M410.50 33.22 h-2.6" class="tkm"/>
<path d="M33.50 23.94 h2.6 M410.50 23.94 h-2.6" class="tkm"/>
<path d="M33.50 14.67 h2.6 M410.50 14.67 h-2.6" class="tkm"/>
<path d="M33.50 5.40 h4.3 M410.50 5.40 h-4.3" class="tkM"/>
<path d="M71.70 237.20 v-4.6" class="tkx"/>
<path d="M93.40 237.20 v-4.6" class="tkx"/>
<path d="M342.40 237.20 v-4.6" class="tkx"/>

<g style="filter:grayscale(1)">
<text x="-0.7" y="241.10" textLength="30.3" lengthAdjust="spacingAndGlyphs" class="ser" style="font-size:11.7px">0.0000</text>
<text x="-0.7" y="194.74" textLength="30.3" lengthAdjust="spacingAndGlyphs" class="ser" style="font-size:11.7px">0.0001</text>
<text x="-0.7" y="148.38" textLength="30.3" lengthAdjust="spacingAndGlyphs" class="ser" style="font-size:11.7px">0.0002</text>
<text x="-0.7" y="102.02" textLength="30.3" lengthAdjust="spacingAndGlyphs" class="ser" style="font-size:11.7px">0.0003</text>
<text x="-0.7" y="55.66" textLength="30.3" lengthAdjust="spacingAndGlyphs" class="ser" style="font-size:11.7px">0.0004</text>
<text x="-0.7" y="9.30" textLength="30.3" lengthAdjust="spacingAndGlyphs" class="ser" style="font-size:11.7px">0.0005</text>

<text x="71.5" y="249.6" text-anchor="middle" class="ser">m</text>
<text x="93.3" y="249.6" text-anchor="middle" class="ser">|p|</text>
<text x="125.2" y="249.6" text-anchor="middle" class="ser" font-style="italic">λ</text>
<text x="342.4" y="249.7" text-anchor="middle" class="ser" style="font-size:10.6px">M</text>
</g>
<!-- axis label |l| with vector arrow -->
<g stroke="#222" fill="none" stroke-width="0.8">
<path d="M218.4 264.8 V274.6 M225.7 264.8 V274.6"/>
<path d="M223.7 265.3 L222.2 272.6 L222.9 272.3" stroke-width="1.05"/>
<path d="M219.8 263.6 H223.8 M222.8 262.6 L223.9 263.6 L222.8 264.4" stroke-width="0.6"/>
</g>
<!-- legend -->
<path class="c bk" d="M267.6 167.5 H313.6" style="stroke-width:1.9"/>
<path class="c bd" d="M267.6 189.7 H313.6" style="stroke-dasharray:6.8 2.4"/>
<path class="c rd" d="M267.6 211.6 H313.6" style="stroke-dasharray:2.9 2.85"/>
<g style="filter:grayscale(1)">
<text x="319.7" y="171.9" class="san">full integrand</text>
<text x="319.7" y="194.1" class="san">1st order</text>
<text x="319.7" y="216.0" class="san">2nd order</text>
</g>
</svg>
</body></html>
